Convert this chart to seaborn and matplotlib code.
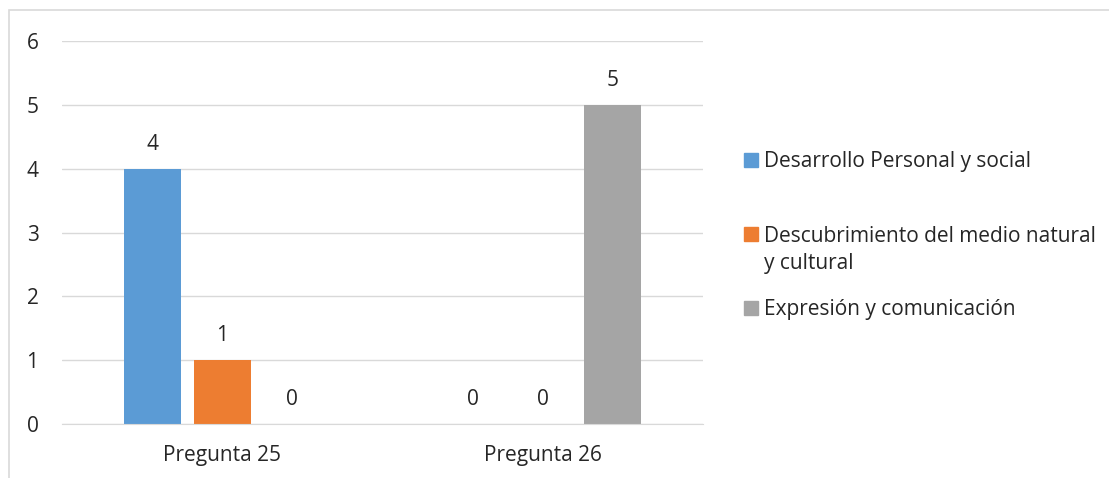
import pandas as pd
import seaborn as sns
import matplotlib.pyplot as plt
from matplotlib.patches import Rectangle

preguntas = ['Pregunta 25', 'Pregunta 26']
areas = ['Desarrollo Personal y social',
         'Descubrimiento del medio natural\ny cultural',
         'Expresión y comunicación']
desarrollo = [4, 0]
descubrimiento = [1, 0]
expresion = [0, 5]
colors = ['#5B9BD5', '#ED7D31', '#A5A5A5']

df = pd.DataFrame({
    'pregunta': preguntas * 3,
    'area': [a for a in areas for _ in preguntas],
    'valor': desarrollo + descubrimiento + expresion,
})

sns.set_style('white')
plt.rcParams['font.family'] = ['Open Sans', 'DejaVu Sans']

W, H = 1109, 478
fig = plt.figure(figsize=(W / 100, H / 100), dpi=100)
ax = fig.add_axes([0.056, 0.113, 0.578, 0.801])

sns.barplot(data=df, x='pregunta', y='valor', hue='area', palette=colors,
            width=0.655, gap=0.186, saturation=1, linewidth=0, ax=ax,
            legend=False)

for c in ax.containers:
    ax.bar_label(c, padding=10, fontsize=15, color='#262626')

ax.set_ylim(0, 6)
ax.set_yticks(range(0, 7))
ax.set_xlabel('')
ax.set_ylabel('')
ax.grid(axis='y', color='#D9D9D9', linewidth=1)
ax.set_axisbelow(True)
for s in ['top', 'right', 'left']:
    ax.spines[s].set_visible(False)
ax.spines['bottom'].set_color('#D9D9D9')
ax.tick_params(axis='both', length=0, labelsize=15, labelcolor='#262626')
ax.tick_params(axis='y', pad=17)
ax.tick_params(axis='x', pad=15)

# legend drawn by hand so the wrapped entry keeps its marker on the first line
marker_y = [160, 234, 308]
line_px = 28
for color, label, my in zip(colors, areas, marker_y):
    fig.patches.append(Rectangle((744 / W, 1 - (my + 7) / H), 14 / W, 14 / H,
                                 transform=fig.transFigure, color=color))
    extra = label.count('\n') * line_px
    fig.text(764 / W, 1 - (my + 7 + extra) / H, label, fontsize=15,
             color='#262626', va='baseline', ha='left', linespacing=1.4)

fig.patches.append(Rectangle((9 / W, -0.1), 1.2, 1 - 10 / H + 0.1,
                             transform=fig.transFigure, fill=False,
                             edgecolor='#D9D9D9', linewidth=1.2))

fig.savefig('out.png', dpi=100)
